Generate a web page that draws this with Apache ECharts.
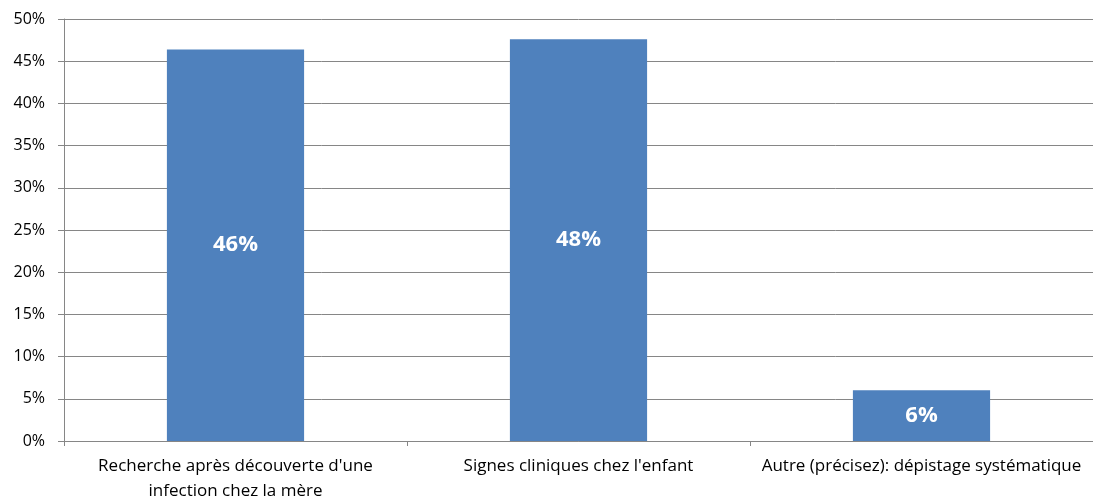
<!DOCTYPE html>
<html>
<head>
<meta charset="utf-8">
<script src="https://cdn.jsdelivr.net/npm/echarts@6/dist/echarts.min.js"></script>
<style>html,body{margin:0;padding:0;background:#fff}#c{width:1093px;height:504px}</style>
</head>
<body>
<div id="c"></div>
<script>
const categories = ["Recherche après découverte d'une\ninfection chez la mère", "Signes cliniques chez l'enfant", "Autre (précisez): dépistage systématique"];
const values = [46.4, 47.6, 6.0];
const labels = ["46%", "48%", "6%"];

const chart = echarts.init(document.getElementById('c'));
chart.setOption({
  animation: false,
  grid: {left: 64, right: 0, top: 19, bottom: 61, containLabel: false},
  xAxis: {
    type: 'category', data: categories,
    axisLine: {lineStyle: {color: '#868686', width: 1}},
    axisTick: {show: true, length: 5, alignWithLabel: false, lineStyle: {color: '#868686'}},
    axisLabel: {color: '#000', fontFamily: 'Open Sans', fontSize: 17, margin: 13, lineHeight: 25, interval: 0}
  },
  yAxis: {
    type: 'value', min: 0, max: 50, interval: 5,
    axisLine: {show: true, lineStyle: {color: '#868686', width: 1}},
    axisTick: {show: true, length: 6, lineStyle: {color: '#868686'}},
    splitLine: {lineStyle: {color: '#868686', width: 1}},
    axisLabel: {formatter: '{value}%', color: '#000', fontFamily: 'Open Sans', fontSize: 16, margin: 19}
  },
  series: [{
    type: 'bar', data: values, barWidth: '40%',
    itemStyle: {color: '#4F81BD'},
    label: {show: true, position: 'inside', color: '#fff', fontWeight: 'bold', fontFamily: 'Open Sans', fontSize: 22,
      formatter: p => labels[p.dataIndex]}
  }]
});
</script>
</body>
</html>
